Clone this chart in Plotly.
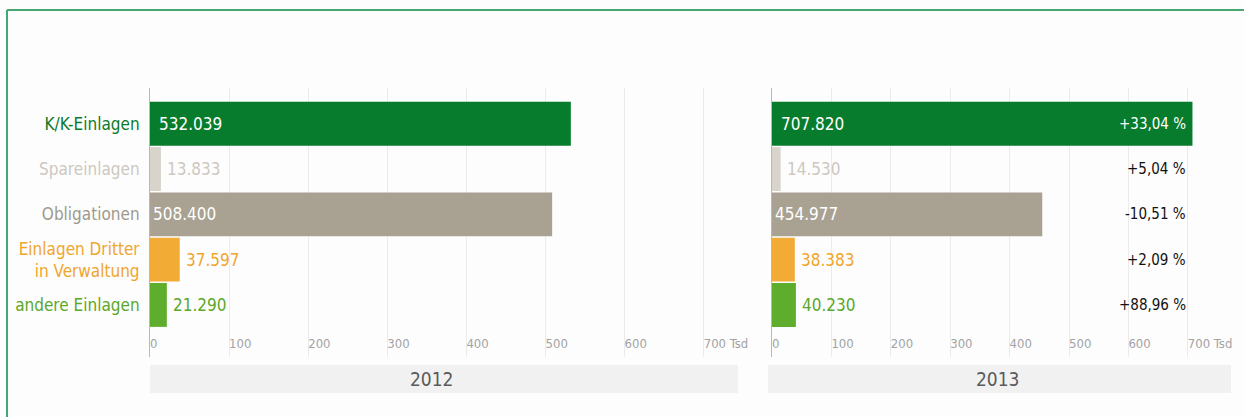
import plotly.graph_objects as go

# Einlagen nach Art, Werte in Tsd
categories = ["K/K-Einlagen", "Spareinlagen", "Obligationen",
              "Einlagen Dritter<br>in Verwaltung", "andere Einlagen"]
values_2012 = [532.039, 13.833, 508.400, 37.597, 21.290]
values_2013 = [707.820, 14.530, 454.977, 38.383, 40.230]
years = ["2012", "2013"]
tick_vals = [0, 100, 200, 300, 400, 500, 600, 700]
tick_text = ["0", "100", "200", "300", "400", "500", "600", "700 Tsd"]

bar_colors = ["#077c2d", "#d8d4cc", "#a9a293", "#f2ac36", "#5fad2d"]
label_colors = ["#0a7a2e", "#cdc8bf", "#9f998c", "#f0a52c", "#5aa82a"]
inside_label = [True, False, True, False, False]

W, H = 1244, 417
FONT = "Liberation Sans Narrow, DejaVu Sans Condensed, Roboto, sans-serif"


def fx(px):
    return px / W


def fy(py):
    return 1 - py / H


def fmt_tsd(v):
    return f"{v:.3f}"


def fmt_pct(a, b):
    p = (b / a - 1) * 100
    s = f"{p:+.2f}".replace(".", ",")
    return f"{s} %"


fig = go.Figure()
for vals, xa, ya in [(values_2012, "x", "y"), (values_2013, "x2", "y2")]:
    fig.add_trace(go.Bar(
        x=vals, y=categories, orientation="h", xaxis=xa, yaxis=ya,
        marker=dict(color=bar_colors, line=dict(width=0)),
        width=0.97, hoverinfo="skip", showlegend=False,
    ))

# Kategorienbeschriftung farbig je Zeile
colored_ticks = [f'<span style="color:{c}">{t}</span>'
                 for t, c in zip(categories, label_colors)]

axis_common = dict(
    tickvals=tick_vals, ticktext=tick_text, showgrid=True,
    gridcolor="#ebebeb", gridwidth=1, zeroline=False, showline=False,
    ticks="", ticklabelposition="inside right",
    tickfont=dict(family=FONT, size=13, color="#a3a3a3"),
    fixedrange=True,
)
y_dom = [fy(357), fy(88)]
y_rng = [5.15, -0.79]

fig.update_layout(
    width=W, height=H,
    margin=dict(l=0, r=0, t=0, b=0),
    paper_bgcolor="#fdfdfd", plot_bgcolor="rgba(0,0,0,0)",
    bargap=0.03,
    xaxis=dict(domain=[fx(150), fx(760)], range=[0, 610 / 0.791], anchor="y",
               **axis_common),
    xaxis2=dict(domain=[fx(772), fx(1240)], range=[0, 468 / 0.594], anchor="y2",
                **axis_common),
    yaxis=dict(domain=y_dom, range=y_rng, anchor="x",
               tickvals=categories, ticktext=colored_ticks,
               ticks="", showgrid=False, showline=True, linecolor="#b9b9b9",
               linewidth=1, ticklabelstandoff=6,
               tickfont=dict(family=FONT, size=17)),
    yaxis2=dict(domain=y_dom, range=y_rng, anchor="x2", showticklabels=False,
                ticks="", showgrid=False, showline=True, linecolor="#b9b9b9",
                linewidth=1),
    font=dict(family=FONT),
)

annotations = []
for vals, xa, ya in [(values_2012, "x", "y"), (values_2013, "x2", "y2")]:
    for i, (cat, v) in enumerate(zip(categories, vals)):
        if inside_label[i]:
            annotations.append(dict(
                x=0, y=cat, xref=xa, yref=ya, text=fmt_tsd(v),
                xanchor="left", yanchor="middle", showarrow=False,
                xshift=7 if i == 0 else 1,
                font=dict(family=FONT, size=17, color="white")))
        else:
            annotations.append(dict(
                x=v, y=cat, xref=xa, yref=ya, text=fmt_tsd(v),
                xanchor="left", yanchor="middle", showarrow=False, xshift=4,
                font=dict(family=FONT, size=17, color=label_colors[i])))

# Veränderung 2013 gegenüber 2012
for i, cat in enumerate(categories):
    annotations.append(dict(
        x=700, y=cat, xref="x2", yref="y2",
        text=fmt_pct(values_2012[i], values_2013[i]),
        xanchor="right", yanchor="middle", showarrow=False,
        font=dict(family=FONT, size=15,
                  color="white" if i == 0 else "#111111")))

# Jahresbänder unter den Achsen
shapes = []
for (x0, x1, xc), yr in zip([(150, 738, 432), (768, 1231, 998)], years):
    shapes.append(dict(type="rect", xref="paper", yref="paper",
                       x0=fx(x0), x1=fx(x1), y0=fy(393), y1=fy(365),
                       fillcolor="#f1f1f1", line=dict(width=0), layer="below"))
    annotations.append(dict(x=fx(xc), y=fy(379), xref="paper", yref="paper",
                            text=yr, showarrow=False, xanchor="center",
                            yanchor="middle",
                            font=dict(family=FONT, size=19, color="#5a5a5a")))

# grüner Rahmen oben und links
shapes.append(dict(type="line", xref="paper", yref="paper",
                   x0=fx(7), x1=1, y0=fy(10), y1=fy(10),
                   line=dict(color="#45a872", width=2)))
shapes.append(dict(type="line", xref="paper", yref="paper",
                   x0=fx(7), x1=fx(7), y0=fy(10), y1=0,
                   line=dict(color="#45a872", width=2)))

fig.update_layout(annotations=annotations, shapes=shapes)
fig.write_html("out.html")
